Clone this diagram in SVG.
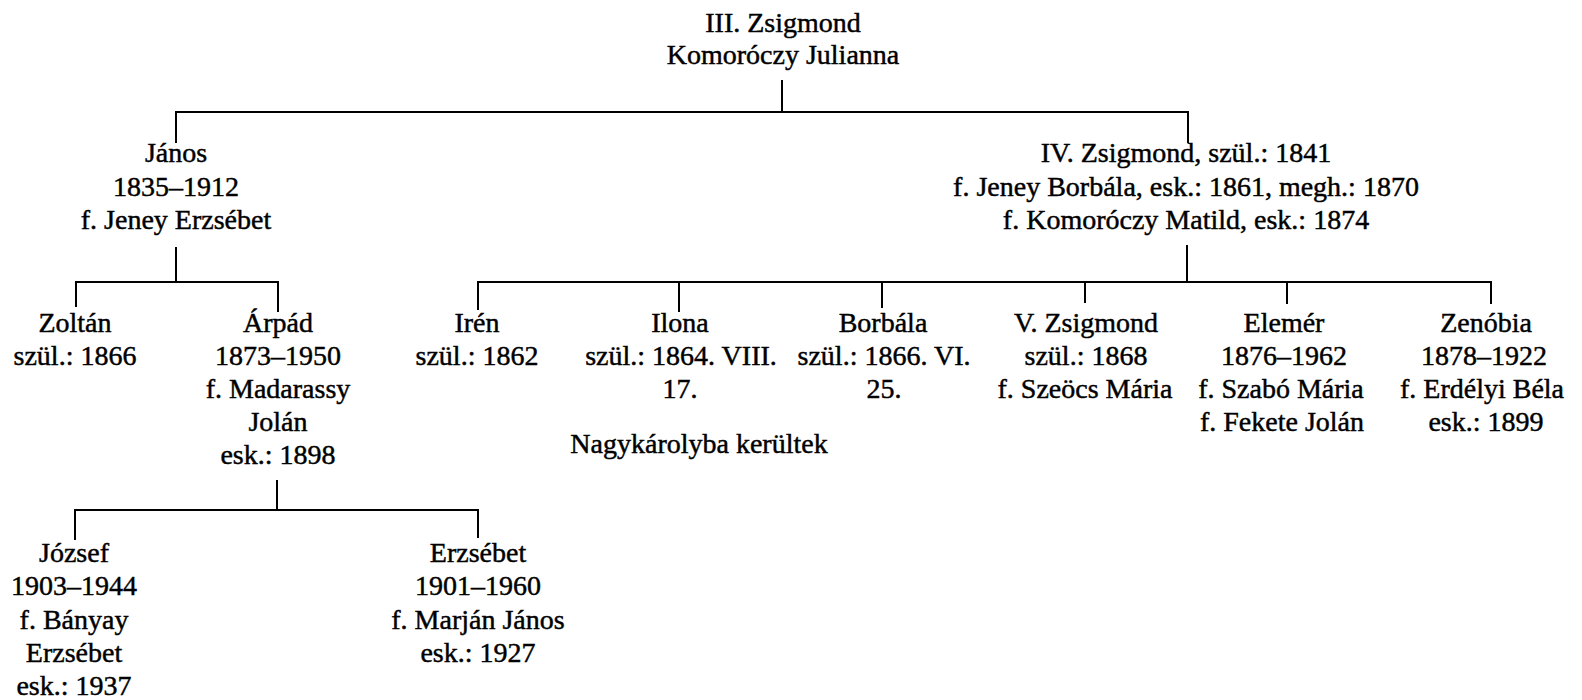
<svg xmlns="http://www.w3.org/2000/svg" width="1582" height="700" viewBox="0 0 1582 700">
<style>
text{font-family:"Liberation Serif","Times New Roman",serif;font-size:28px;fill:#000;stroke:#000;stroke-width:0.45;text-anchor:middle}
.c line{stroke:#000;stroke-width:2}
</style>
<rect width="1582" height="700" fill="#fff"/>
<g class="c" id="connectors">
<line x1="782" y1="80" x2="782" y2="112"/>
<line x1="175" y1="112" x2="1189" y2="112"/>
<line x1="176" y1="112" x2="176" y2="143"/>
<line x1="1188" y1="112" x2="1188" y2="143"/>
<line x1="176" y1="247" x2="176" y2="282"/>
<line x1="75" y1="282" x2="279" y2="282"/>
<line x1="76" y1="282" x2="76" y2="307"/>
<line x1="278" y1="282" x2="278" y2="312"/>
<line x1="1187" y1="245" x2="1187" y2="282"/>
<line x1="477" y1="282" x2="1492" y2="282"/>
<line x1="478" y1="282" x2="478" y2="310"/>
<line x1="679" y1="282" x2="679" y2="312"/>
<line x1="882" y1="282" x2="882" y2="308"/>
<line x1="1085" y1="282" x2="1085" y2="303"/>
<line x1="1287" y1="282" x2="1287" y2="304"/>
<line x1="1491" y1="282" x2="1491" y2="304"/>
<line x1="277" y1="480" x2="277" y2="510"/>
<line x1="74" y1="510" x2="479" y2="510"/>
<line x1="75" y1="510" x2="75" y2="540"/>
<line x1="478" y1="510" x2="478" y2="538"/>
</g>
<g id="root"><text x="783" y="32">III. Zsigmond</text><text x="783" y="64">Komoróczy Julianna</text></g>
<g id="janos"><text x="176" y="162">János</text><text x="176" y="196">1835–1912</text><text x="176" y="229">f. Jeney Erzsébet</text></g>
<g id="zsigmond4"><text x="1186" y="162">IV. Zsigmond, szül.: 1841</text><text x="1186" y="196">f. Jeney Borbála, esk.: 1861, megh.: 1870</text><text x="1186" y="229">f. Komoróczy Matild, esk.: 1874</text></g>
<g id="zoltan"><text x="75" y="332">Zoltán</text><text x="75" y="365">szül.: 1866</text></g>
<g id="arpad"><text x="278" y="332">Árpád</text><text x="278" y="365">1873–1950</text><text x="278" y="398">f. Madarassy</text><text x="278" y="431">Jolán</text><text x="278" y="464">esk.: 1898</text></g>
<g id="iren"><text x="477" y="332">Irén</text><text x="477" y="365">szül.: 1862</text></g>
<g id="ilona"><text x="680" y="332">Ilona</text><text x="681" y="365">szül.: 1864. VIII.</text><text x="680" y="398">17.</text></g>
<g id="note"><text x="699" y="453">Nagykárolyba kerültek</text></g>
<g id="borbala"><text x="883" y="332">Borbála</text><text x="884" y="365">szül.: 1866. VI.</text><text x="884" y="398">25.</text></g>
<g id="zsigmond5"><text x="1086" y="332">V. Zsigmond</text><text x="1086" y="365">szül.: 1868</text><text x="1085" y="398">f. Szeöcs Mária</text></g>
<g id="elemer"><text x="1284" y="332">Elemér</text><text x="1284" y="365">1876–1962</text><text x="1281" y="398">f. Szabó Mária</text><text x="1282" y="431">f. Fekete Jolán</text></g>
<g id="zenobia"><text x="1486" y="332">Zenóbia</text><text x="1484" y="365">1878–1922</text><text x="1482" y="398">f. Erdélyi Béla</text><text x="1486" y="431">esk.: 1899</text></g>
<g id="jozsef"><text x="74" y="562">József</text><text x="74" y="595">1903–1944</text><text x="74" y="629">f. Bányay</text><text x="74" y="662">Erzsébet</text><text x="74" y="695">esk.: 1937</text></g>
<g id="erzsebet"><text x="478" y="562">Erzsébet</text><text x="478" y="595">1901–1960</text><text x="478" y="629">f. Marján János</text><text x="478" y="662">esk.: 1927</text></g>
</svg>
